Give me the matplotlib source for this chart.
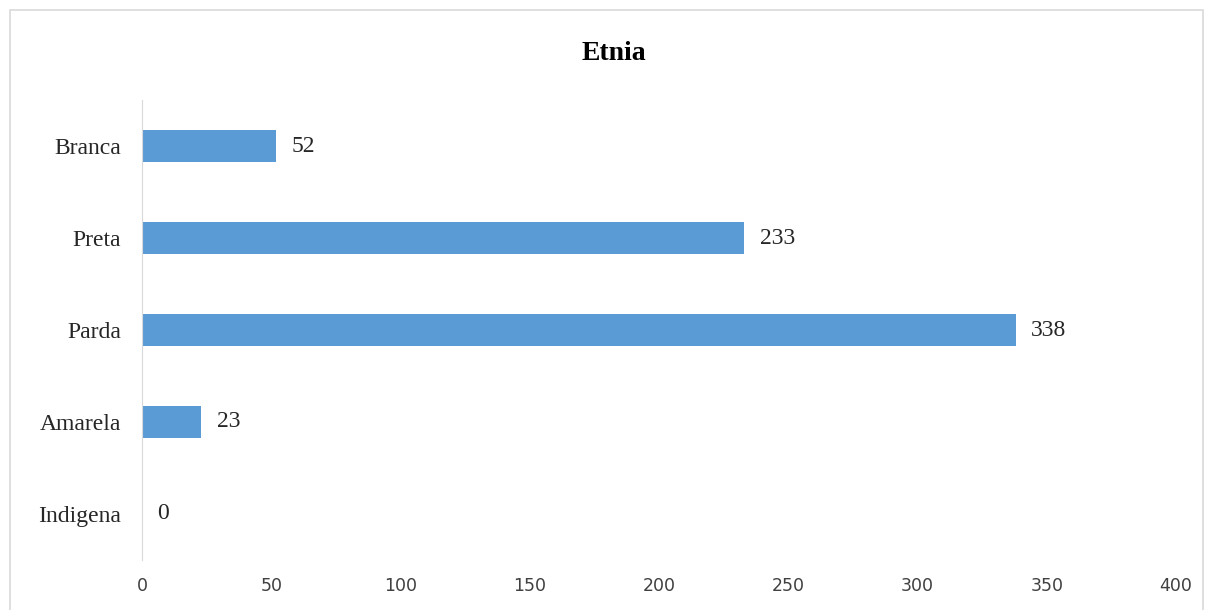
import matplotlib.pyplot as plt
from matplotlib.patches import Rectangle

categories = ['Indigena', 'Amarela', 'Parda', 'Preta', 'Branca']
values = [0, 23, 338, 233, 52]
x_ticks = [0, 50, 100, 150, 200, 250, 300, 350, 400]

fig = plt.figure(figsize=(12.07, 6.10), dpi=100)
ax = fig.add_axes([0.1176, 0.082, 0.8567, 0.754])

ax.barh(categories, values, height=0.35, color='#5b9bd5')
for i, v in enumerate(values):
    ax.text(v + 6, i, str(v), va='center', ha='left',
            family='Liberation Serif', fontsize=17, color='#262626')

ax.set_xlim(0, 400)
ax.set_ylim(-0.5, 4.5)
ax.set_xticks(x_ticks)
ax.set_xticklabels([str(t) for t in x_ticks], family='DejaVu Sans', fontsize=12.5, color='#404040')
for lbl in ax.get_yticklabels():
    lbl.set_family('Liberation Serif')
    lbl.set_fontsize(17)
    lbl.set_color('#262626')
ax.tick_params(axis='y', length=0, pad=15)
ax.tick_params(axis='x', length=0, pad=12)

for s in ['top', 'right', 'bottom']:
    ax.spines[s].set_visible(False)
ax.spines['left'].set_color('#d9d9d9')

fig.text(0.5087, 0.913, 'Etnia', ha='center', va='center',
         family='Liberation Serif', fontsize=20, fontweight='bold', color='black')

# chart border
fig.patches.append(Rectangle((10 / 1207, -0.02), 1193 / 1207, 1.004,
                             transform=fig.transFigure, fill=False,
                             edgecolor='#d9d9d9', linewidth=1.2))

fig.savefig('out.png', dpi=100)
